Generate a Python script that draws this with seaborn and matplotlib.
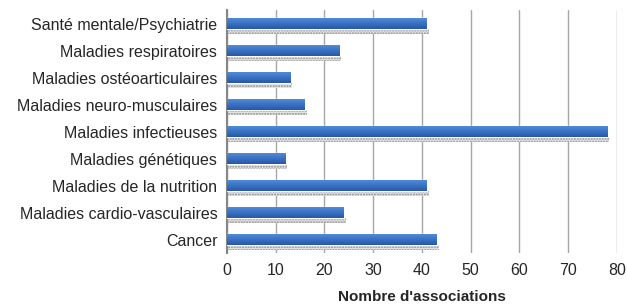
import numpy as np
import pandas as pd
import seaborn as sns
import matplotlib
matplotlib.use('Agg')
import matplotlib.pyplot as plt
from matplotlib.patches import Rectangle

categories = ['Santé mentale/Psychiatrie', 'Maladies respiratoires', 'Maladies ostéoarticulaires',
              'Maladies neuro-musculaires', 'Maladies infectieuses', 'Maladies génétiques',
              'Maladies de la nutrition', 'Maladies cardio-vasculaires', 'Cancer']
values = [41, 23, 13, 16, 78, 12, 41, 24, 43]
xticks = [0, 10, 20, 30, 40, 50, 60, 70, 80]

df = pd.DataFrame({'cat': categories, 'n': values})

sns.set_style('white')
plt.rcParams['font.family'] = ['Liberation Sans', 'DejaVu Sans']
plt.rcParams['hatch.linewidth'] = 1.0

fig = plt.figure(figsize=(6.27, 3.05), dpi=100)
ax = fig.add_axes([0.362, 0.170, 0.622, 0.797])

sns.barplot(data=df, x='n', y='cat', orient='h', color='#3a6fc0', width=0.42,
            ax=ax, zorder=3, saturation=1)

# dotted shadow under each bar + vertical gradient on the bar
grad = np.linspace(0, 1, 50).reshape(-1, 1)
cmap = matplotlib.colors.LinearSegmentedColormap.from_list('b', ['#5590dc', '#3b73c6', '#2958a3'])
for p in list(ax.patches):
    x0, y0 = p.get_x(), p.get_y()
    w, h = p.get_width(), p.get_height()
    sh = Rectangle((x0, y0 + h), w + 0.4, h * 0.4, facecolor='#e6e6e6', edgecolor='#8c8c8c',
                   hatch='......', linewidth=0, zorder=2)
    ax.add_patch(sh)
    im = ax.imshow(grad, cmap=cmap, aspect='auto', extent=(x0, x0 + w, y0 + h, y0), zorder=4)
    im.set_clip_path(p)

ax.set_xlim(0, 80)
ax.set_ylim(len(categories) - 0.5, -0.5)
ax.set_xticks(xticks)
ax.set_xticklabels([str(t) for t in xticks], fontsize=11.5)
ax.tick_params(axis='x', length=0, pad=7)
ax.tick_params(axis='y', which='major', length=0, pad=7, labelsize=11.5)
ax.set_yticks(np.arange(-0.5, len(categories), 1), minor=True)
ax.tick_params(axis='y', which='minor', length=5, width=1.2, color='#868686', direction='out')
ax.grid(axis='x', color='#a6a6a6', linewidth=1, zorder=0)
ax.set_axisbelow(True)
for s in ['top', 'right', 'bottom']:
    ax.spines[s].set_visible(False)
ax.spines['left'].set_color('#868686')
ax.spines['left'].set_linewidth(1.5)
ax.set_ylabel('')
ax.set_xlabel("Nombre d'associations", fontsize=11, fontweight='bold', labelpad=9)

fig.savefig('out.png', dpi=100)
